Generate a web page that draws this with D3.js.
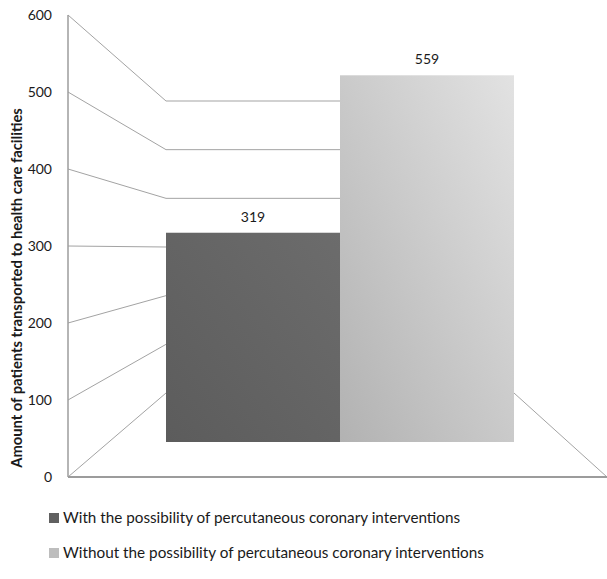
<!DOCTYPE html>
<html>
<head>
<meta charset="utf-8">
<script src="https://cdn.jsdelivr.net/npm/d3@7"></script>
<style>
  html, body { margin: 0; padding: 0; background: #fff; }
  svg { display: block; }
  text { font-family: Lato, "Open Sans", sans-serif; fill: #1a1a1a; }
</style>
</head>
<body>
<svg id="chart" width="607" height="579"></svg>
<script>
// Data
const categories = [
  "With the possibility of percutaneous coronary interventions",
  "Without the possibility of percutaneous coronary interventions"
];
const values = [319, 559];
const tickValues = [0, 100, 200, 300, 400, 500, 600];
const yTitle = "Amount of patients transported to health care facilities";
const barColors = [["#6c6c6c", "#5c5c5c"], ["#e2e2e2", "#b2b2b2"]];
const legendColors = ["#606060", "#bdbdbd"];

const svg = d3.select("#chart");
const defs = svg.append("defs");

// Three depth planes of the 3-D box: front edge, bar plane, back wall
const xFront = 68, xBack = 166, xRight = 607;
const yFront = d3.scaleLinear().domain([0, 600]).range([477, 15]);
const yBack  = d3.scaleLinear().domain([0, 600]).range([393, 101]);
const yBar   = d3.scaleLinear().domain([0, 600]).range([442, 48.4]);
const x = d3.scaleBand().domain(categories).range([166, 514]).padding(0);

const gridColor = "#a3a3a3";

// Gridlines: side wall diagonal + back wall horizontal
const grid = svg.append("g").attr("fill", "none").attr("stroke", gridColor).attr("stroke-width", 1);
grid.selectAll("path.grid").data(tickValues).join("path")
  .attr("class", "grid")
  .attr("d", d => d3.line()([[xFront, yFront(d)], [xBack, yBack(d)], [x.range()[1], yBack(d)]]));

// Floor: right diagonal edge and front edge
grid.append("path")
  .attr("d", d3.line()([[x.range()[1], yBack(0)], [xRight, yFront(0)]]));
svg.append("line")
  .attr("x1", xFront).attr("x2", xRight)
  .attr("y1", yFront(0)).attr("y2", yFront(0))
  .attr("stroke", "#9c9c9c").attr("stroke-width", 2);

// Vertical axis
svg.append("line")
  .attr("x1", xFront).attr("x2", xFront)
  .attr("y1", yFront(0)).attr("y2", yFront(600))
  .attr("stroke", "#9c9c9c").attr("stroke-width", 1.5);

// Tick labels
svg.append("g").selectAll("text").data(tickValues).join("text")
  .attr("x", 52).attr("y", d => yFront(d))
  .attr("dy", "0.35em")
  .attr("text-anchor", "end")
  .style("font-size", "14px")
  .text(d => d);

// Bar gradients
barColors.forEach((c, i) => {
  const g = defs.append("linearGradient")
    .attr("id", "bar" + i)
    .attr("x1", "1").attr("y1", "0").attr("x2", "0").attr("y2", "1");
  g.append("stop").attr("offset", "0").attr("stop-color", c[0]);
  g.append("stop").attr("offset", "1").attr("stop-color", c[1]);
});

// Bars
svg.append("g").selectAll("rect").data(values).join("rect")
  .attr("x", (d, i) => x(categories[i]))
  .attr("y", d => yBar(d))
  .attr("width", x.bandwidth())
  .attr("height", d => yBar(0) - yBar(d))
  .attr("fill", (d, i) => `url(#bar${i})`);

// Value labels
svg.append("g").selectAll("text").data(values).join("text")
  .attr("x", (d, i) => x(categories[i]) + x.bandwidth() / 2)
  .attr("y", d => yBar(d) - 11)
  .attr("text-anchor", "middle")
  .style("font-size", "14px")
  .text(d => d);

// Fit text to a target width by adjusting font size
function fitWidth(sel, target, base) {
  sel.style("font-size", base + "px");
  const w = sel.node().getComputedTextLength();
  sel.style("font-size", (base * target / w).toFixed(2) + "px");
}

// Y-axis title
const title = svg.append("text")
  .attr("transform", "translate(17,288) rotate(-90)")
  .attr("text-anchor", "middle")
  .attr("dy", "0.35em")
  .style("font-weight", "bold")
  .text(yTitle);
fitWidth(title, 360, 13);

// Legend
const legendY = [518, 553];
const targets = [397, 421];
const legend = svg.append("g");
categories.forEach((c, i) => {
  legend.append("rect")
    .attr("x", 49).attr("y", legendY[i] - 5)
    .attr("width", 10).attr("height", 10)
    .attr("fill", legendColors[i]);
  const t = legend.append("text")
    .attr("x", 63).attr("y", legendY[i])
    .attr("dy", "0.35em")
    .text(c);
  fitWidth(t, targets[i], 16);
});
</script>
</body>
</html>
